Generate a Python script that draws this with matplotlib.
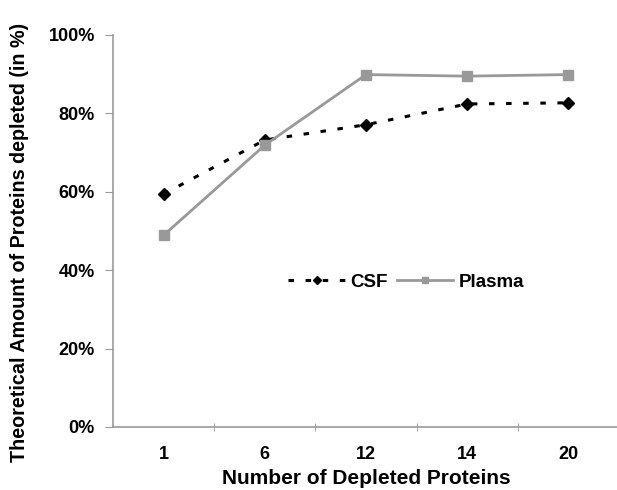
import numpy as np
import matplotlib.pyplot as plt
from matplotlib.ticker import PercentFormatter

plt.rcParams['font.family'] = ['Liberation Sans', 'DejaVu Sans']
plt.rcParams['font.weight'] = 'bold'

categories = ['1', '6', '12', '14', '20']
csf = [59.4, 73.2, 77.1, 82.4, 82.7]
plasma = [48.9, 71.9, 89.9, 89.5, 89.9]

x = np.arange(len(categories))

fig = plt.figure(figsize=(6.17, 4.9), dpi=100)
ax = fig.add_axes([0.1831, 0.1286, 0.8201, 0.8])

ax.plot(x, csf, color='black', linestyle=(0, (1.8, 3.8)), linewidth=2.2,
        marker='D', markersize=6, label='CSF')
ax.plot(x, plasma, color='#999999', linestyle='-', linewidth=2,
        marker='s', markersize=6.5, label='Plasma')

ax.set_xlim(-0.5, len(categories) - 0.5)
ax.set_ylim(0, 100)
ax.set_yticks(np.arange(0, 101, 20))
ax.yaxis.set_major_formatter(PercentFormatter(decimals=0))
ax.set_xticks(x)
ax.set_xticklabels(categories)
ax.set_xticks(np.arange(0.5, len(categories) - 0.5, 1), minor=True)
ax.tick_params(axis='x', which='major', length=0, pad=14, labelsize=13)
ax.tick_params(axis='x', which='minor', length=6, color='#999999', direction='inout')
ax.tick_params(axis='y', length=6, color='#999999', labelsize=13, pad=7)

for side in ['top', 'right']:
    ax.spines[side].set_visible(False)
for side in ['left', 'bottom']:
    ax.spines[side].set_color('#999999')
    ax.spines[side].set_linewidth(1.2)

ax.set_xlabel('Number of Depleted Proteins', fontsize=15, fontweight='bold', labelpad=4)
ax.set_ylabel('Theoretical Amount of Proteins depleted (in %)', fontsize=14.2,
              fontweight='bold')
ax.yaxis.set_label_coords(-0.166, 0.472)

ax.legend(loc='center', bbox_to_anchor=(0.58, 0.37), ncol=2, frameon=False,
          fontsize=13.5, handlelength=3, columnspacing=0.5, handletextpad=0.3,
          markerscale=0.75)

fig.savefig('out.png', dpi=100)
